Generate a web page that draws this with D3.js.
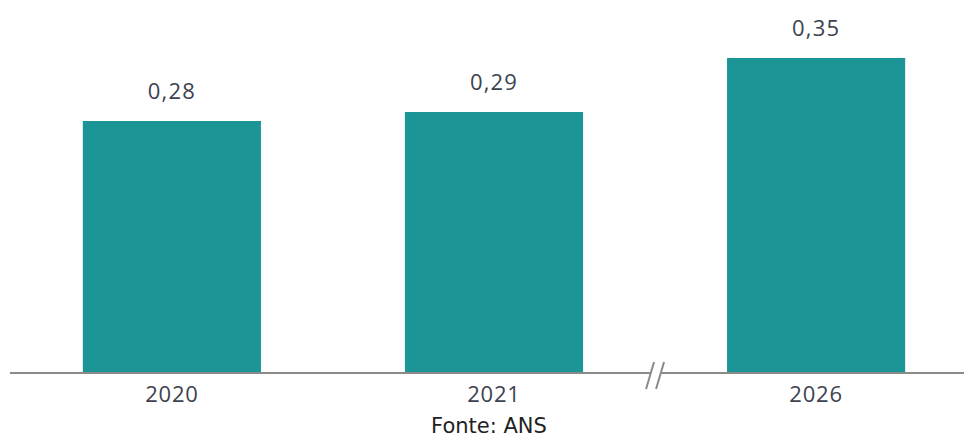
<!DOCTYPE html>
<html>
<head>
<meta charset="utf-8">
<script src="https://cdn.jsdelivr.net/npm/d3@7"></script>
<style>
  html, body { margin: 0; padding: 0; background: #fff; }
  svg { display: block; }
</style>
</head>
<body>
<svg id="chart" width="964" height="437"></svg>
<script>
// Values per year
const categories = ["2020", "2021", "2026"];
const values = [0.28, 0.29, 0.35];
const valueLabels = ["0,28", "0,29", "0,35"];
const sourceText = "Fonte: ANS";

const W = 964, H = 437;
const baseY = 373;

const svg = d3.select("#chart");

const x = d3.scaleBand()
  .domain(categories)
  .range([11, 977])
  .paddingInner(0.447)
  .paddingOuter(0.223);

const y = d3.scaleLinear()
  .domain([0, 0.35])
  .range([baseY, 58]);

// Bars
svg.append("g")
  .selectAll("rect")
  .data(values)
  .join("rect")
  .attr("x", (d, i) => x(categories[i]))
  .attr("y", d => y(d))
  .attr("width", x.bandwidth())
  .attr("height", d => y(0) - y(d))
  .attr("fill", "#1c9597");

// Value labels
svg.append("g")
  .selectAll("text")
  .data(values)
  .join("text")
  .attr("x", (d, i) => x(categories[i]) + x.bandwidth() / 2)
  .attr("y", d => y(d) - 22)
  .attr("text-anchor", "middle")
  .attr("font-family", "'Open Sans', sans-serif")
  .attr("font-size", 22)
  .attr("font-weight", 500)
  .attr("letter-spacing", 1.2)
  .attr("fill", "#3c4250")
  .text((d, i) => valueLabels[i]);

// Category axis
const axis = svg.append("g")
  .attr("transform", `translate(0,${baseY})`)
  .call(d3.axisBottom(x).tickSize(0).tickPadding(13));
axis.select(".domain").remove();
axis.selectAll("text")
  .attr("font-family", "'Open Sans', sans-serif")
  .attr("font-size", 22)
  .attr("font-weight", 500)
  .attr("letter-spacing", 0.8)
  .attr("fill", "#3c4250");

// Baseline with a break between 2021 and 2026
const breakX = (x("2021") + x.bandwidth() + x("2026")) / 2;
svg.append("line")
  .attr("x1", 10).attr("x2", W)
  .attr("y1", baseY).attr("y2", baseY)
  .attr("stroke", "#8a8a8a")
  .attr("stroke-width", 2);
svg.append("rect")
  .attr("x", breakX - 5).attr("y", baseY - 3)
  .attr("width", 10).attr("height", 6)
  .attr("fill", "#fff");
[-5, 5].forEach(dx => {
  svg.append("line")
    .attr("x1", breakX + dx + 4).attr("y1", baseY - 11)
    .attr("x2", breakX + dx - 4).attr("y2", baseY + 16)
    .attr("stroke", "#8a8a8a")
    .attr("stroke-width", 2);
});

// Source
svg.append("text")
  .attr("x", 489)
  .attr("y", 433)
  .attr("text-anchor", "middle")
  .attr("font-family", "'DejaVu Sans', sans-serif")
  .attr("font-size", 21)
  .attr("fill", "#222")
  .text(sourceText);
</script>
</body>
</html>
